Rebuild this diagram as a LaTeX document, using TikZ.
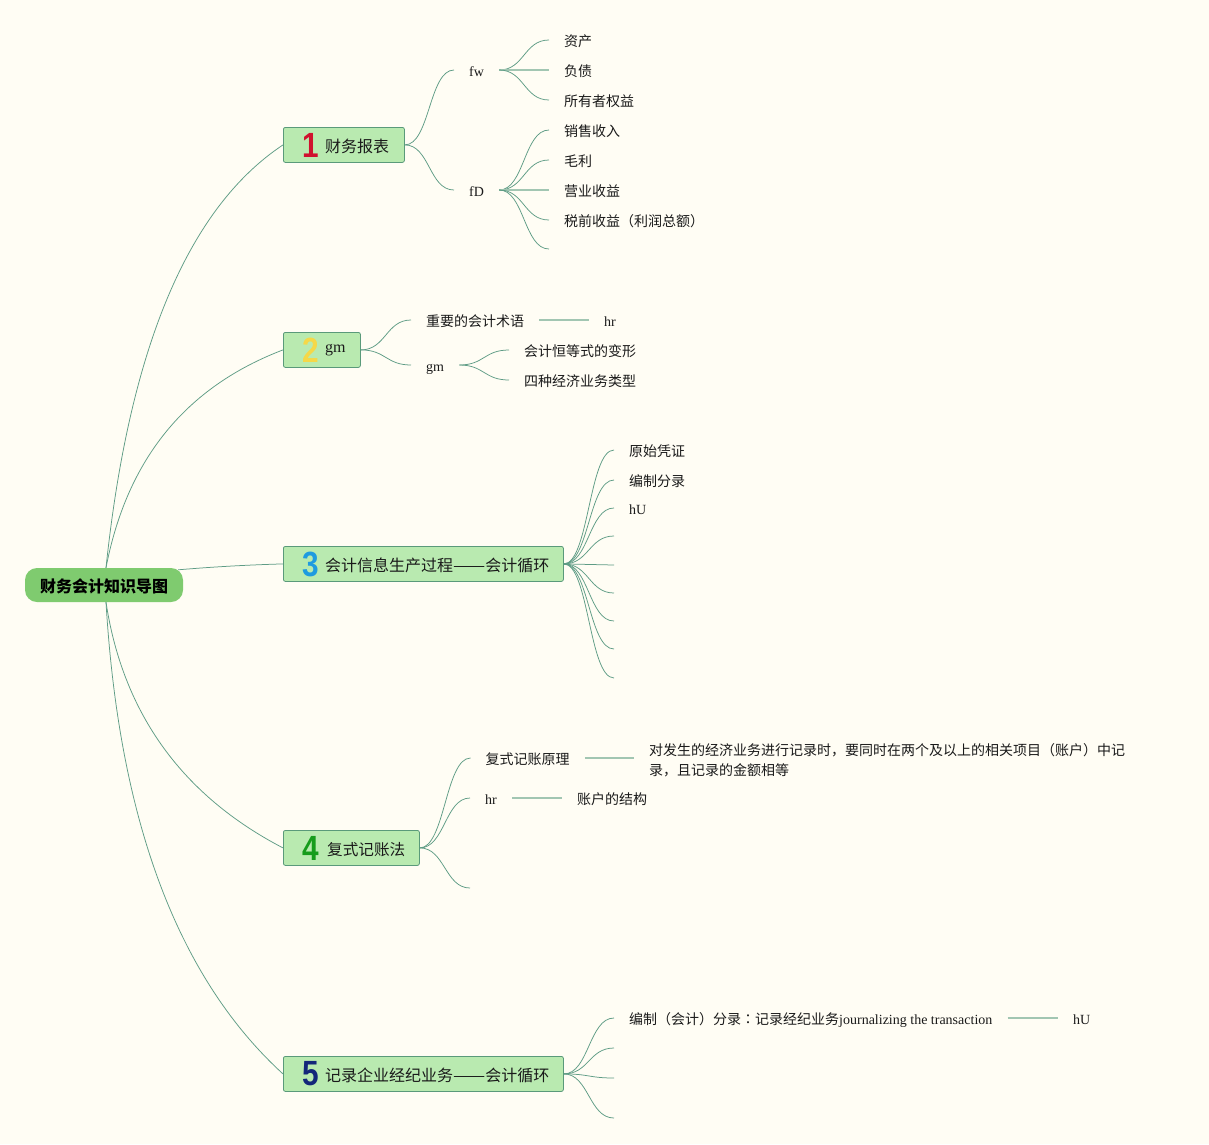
\documentclass[tikz,border=0pt]{standalone}
\usepackage{fontspec}
\usepackage{graphicx}
\setmainfont{Liberation Serif}
\newfontfamily\cjk{Noto Sans CJK SC}
\newfontfamily\cjktc{Noto Sans CJK TC}
\newfontfamily\numfont{Liberation Sans}
\usetikzlibrary{calc}
\definecolor{pagebg}{HTML}{FFFDF4}
\definecolor{linecol}{HTML}{5E9C85}
\definecolor{straightcol}{HTML}{A2C6B2}
\definecolor{topicfill}{HTML}{B9EAB0}
\definecolor{topicline}{HTML}{5A9A7A}
\definecolor{rootfill}{HTML}{7FCB6F}
\definecolor{textcol}{HTML}{1A1A1A}
\newcommand{\widedash}{\scalebox{1.2}[1]{——}}
\newcommand{\narrownum}[1]{\scalebox{0.85}[1]{#1}}
\tikzset{
  conn/.style={draw=linecol,line width=0.75pt},
  straightconn/.style={draw=straightcol,line width=1.1pt},
  leaf/.style={anchor=west,inner xsep=15pt,inner ysep=0pt,text height=14pt,text depth=1pt,font=\fontsize{14}{14}\selectfont,text=textcol},
  multileaf/.style={anchor=west,inner xsep=15pt,inner ysep=0pt,align=left,font=\fontsize{14}{20}\selectfont,text=textcol},
  topic/.style={anchor=north west,draw=topicline,fill=topicfill,rounded corners=2pt,line width=0.8pt,minimum height=35pt,inner sep=0pt},
  toptext/.style={anchor=west,inner sep=0pt,text height=14pt,text depth=2pt,font=\fontsize{16}{16}\selectfont,text=textcol},
  numeral/.style={anchor=center,inner sep=0pt,font=\numfont\bfseries\fontsize{35}{35}\selectfont},
  rootnode/.style={fill=rootfill,rounded corners=12pt,minimum width=158pt,minimum height=34pt,inner sep=0pt,text height=15pt,text depth=1pt,font=\cjk\bfseries\fontsize{16}{16}\selectfont,text=black}
}
\newcommand{\branch}[2]{\draw[conn] (#1) to[out=0,in=180,distance=25pt] (#2);}
\newcommand{\straightlink}[2]{\draw[straightconn] (#1) -- (#2);}
\begin{document}
\begin{tikzpicture}[x=1pt,y=-1pt]
\fill[pagebg] (0,0) rectangle (1209,1144);
\useasboundingbox (0,0) rectangle (1209,1144);
% root
\node[rootnode] (root) at (104,585) {财务会计知识导图};
% topics
\node[topic,minimum width=121pt] (t1) at (283,127) {};
\node[topic,minimum width=77pt] (t2) at (283,332) {};
\node[topic,minimum width=280pt] (t3) at (283,546) {};
\node[topic,minimum width=136pt] (t4) at (283,830) {};
\node[topic,minimum width=280pt] (t5) at (283,1056) {};
\node[numeral,text={rgb,255:red,208;green,18;blue,46}] (n1) at (310.5,145) {\narrownum{1}};
\node[numeral,text={rgb,255:red,245;green,216;blue,72}] (n2) at (310.5,350) {\narrownum{2}};
\node[numeral,text={rgb,255:red,30;green,155;blue,224}] (n3) at (310.5,564) {\narrownum{3}};
\node[numeral,text={rgb,255:red,22;green,156;blue,28}] (n4) at (310.5,848) {\narrownum{4}};
\node[numeral,text={rgb,255:red,19;green,39;blue,122}] (n5) at (310.5,1074) {\narrownum{5}};
\node[toptext,font=\cjk\fontsize{16}{16}\selectfont] (l1) at (325,146) {财务报表};
\node[toptext] (l2) at (325,346) {gm};
\node[toptext,font=\cjk\fontsize{16}{16}\selectfont] (l3) at (325,565) {会计信息生产过程\widedash{}会计循环};
\node[toptext,font=\cjk\fontsize{15.6}{16}\selectfont] (l4) at (327,849) {复式记账法};
\node[toptext,font=\cjk\fontsize{16}{16}\selectfont] (l5) at (325,1075) {记录企业经纪业务\widedash{}会计循环};
% topic 1
\node[leaf] (fw) at (454,70) {fw};
\node[leaf] (fd) at (454,190) {fD};
\node[leaf,font=\cjk\fontsize{14}{14}\selectfont] (a1) at (549,40) {资产};
\node[leaf,font=\cjk\fontsize{14}{14}\selectfont] (a2) at (549,70) {负债};
\node[leaf,font=\cjk\fontsize{14}{14}\selectfont] (a3) at (549,100) {所有者权益};
\node[leaf,font=\cjk\fontsize{14}{14}\selectfont] (b1) at (549,130) {销售收入};
\node[leaf,font=\cjk\fontsize{14}{14}\selectfont] (b2) at (549,160) {毛利};
\node[leaf,font=\cjk\fontsize{14}{14}\selectfont] (b3) at (549,190) {营业收益};
\node[leaf,font=\cjk\fontsize{14}{14}\selectfont] (b4) at (549,220) {税前收益（利润总额）};
\coordinate (b5) at (549,249);
% topic 2
\node[leaf,font=\cjk\fontsize{14}{14}\selectfont] (c1) at (411,320) {重要的会计术语};
\node[leaf] (c1a) at (589,320) {hr};
\node[leaf] (c2) at (411,365) {gm};
\node[leaf,font=\cjk\fontsize{14}{14}\selectfont] (c2a) at (509,350) {会计恒等式的变形};
\node[leaf,font=\cjk\fontsize{14}{14}\selectfont] (c2b) at (509,380) {四种经济业务类型};
% topic 3
\node[leaf,font=\cjk\fontsize{14}{14}\selectfont] (d1) at (614,450) {原始凭证};
\node[leaf,font=\cjk\fontsize{14}{14}\selectfont] (d2) at (614,480) {编制分录};
\node[leaf] (d3) at (614,508) {hU};
\coordinate (d4) at (614,536);
\coordinate (d5) at (614,565);
\coordinate (d6) at (614,593);
\coordinate (d7) at (614,621);
\coordinate (d8) at (614,649);
\coordinate (d9) at (614,678);
% topic 4
\node[leaf,font=\cjk\fontsize{14}{14}\selectfont] (e1) at (470.5,758) {复式记账原理};
\node[multileaf,font=\cjk\fontsize{14}{20}\selectfont] (e1a) at (634,760) {对发生的经济业务进行记录时，要同时在两个及以上的相关项目（账户）中记\\录，且记录的金额相等};
\node[leaf] (e2) at (470,798) {hr};
\node[leaf,font=\cjk\fontsize{14}{14}\selectfont] (e2a) at (562,798) {账户的结构};
\coordinate (e3) at (470,888);
% topic 5
\node[leaf] (f1) at (614,1018) {{\cjk 编制（会计）分录{\cjktc ：}记录经纪业务}journalizing the transaction};
\node[leaf] (f1a) at (1058,1018) {hU};
\coordinate (f2) at (614,1048);
\coordinate (f3) at (614,1078);
\coordinate (f4) at (614,1118);
% root connectors
\draw[conn] ([xshift=2pt]root.north) .. controls +(23,-219) and +(-95,63) .. (t1.west);
\draw[conn] ([xshift=2pt]root.north) .. controls +(21,-109) and +(-97,37) .. (t2.west);
\draw[conn] ($(root.north east)+(-5,2)$) .. controls +(35,-3) and +(-35,1) .. (t3.west);
\draw[conn] ([xshift=2pt]root.south) .. controls +(17,112) and +(-100,-52) .. (t4.west);
\draw[conn] ([xshift=2pt]root.south) .. controls +(13,219) and +(-105,-96) .. (t5.west);
% branches
\branch{t1.east}{fw.west}
\branch{t1.east}{fd.west}
\branch{fw.east}{a1.west}
\straightlink{fw.east}{a2.west}
\branch{fw.east}{a3.west}
\branch{fd.east}{b1.west}
\branch{fd.east}{b2.west}
\straightlink{fd.east}{b3.west}
\branch{fd.east}{b4.west}
\branch{fd.east}{b5}
\branch{t2.east}{c1.west}
\branch{t2.east}{c2.west}
\straightlink{c1.east}{c1a.west}
\branch{c2.east}{c2a.west}
\branch{c2.east}{c2b.west}
\foreach \c in {d1,d2,d3}{\branch{t3.east}{\c.west}}
\foreach \c in {d4,d5,d6,d7,d8,d9}{\branch{t3.east}{\c}}
\branch{t4.east}{e1.west}
\branch{t4.east}{e2.west}
\branch{t4.east}{e3}
\straightlink{e1.east}{e1.east -| e1a.west}
\straightlink{e2.east}{e2a.west}
\branch{t5.east}{f1.west}
\branch{t5.east}{f2}
\branch{t5.east}{f3}
\branch{t5.east}{f4}
\straightlink{f1.east}{f1a.west}
\end{tikzpicture}
\end{document}
